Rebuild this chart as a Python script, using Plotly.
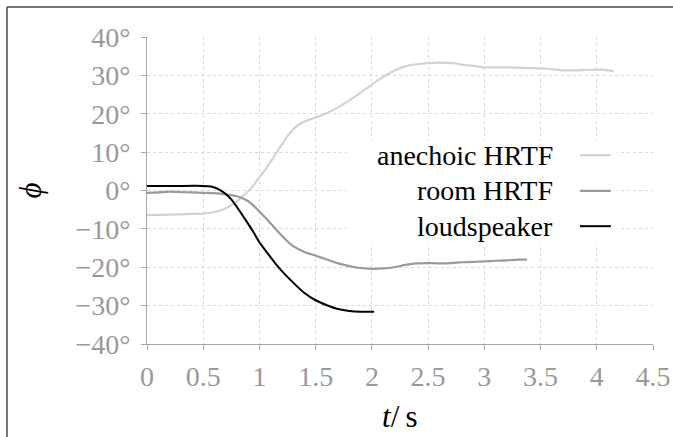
import plotly.graph_objects as go

# ---------------- data ----------------
t_anechoic = [0, 0.2, 0.4, 0.5, 0.6, 0.65, 0.7, 0.75, 0.8, 0.85, 0.9, 0.95, 1.0, 1.05, 1.1,
              1.15, 1.2, 1.25, 1.3, 1.35, 1.4, 1.5, 1.6, 1.7, 1.8, 1.9, 2.0, 2.1, 2.2, 2.3,
              2.4, 2.5, 2.6, 2.7, 2.75, 2.8, 2.9, 3.0, 3.1, 3.2, 3.3, 3.4, 3.5, 3.6, 3.7,
              3.8, 3.9, 4.0, 4.05, 4.15]
phi_anechoic = [-6.4, -6.3, -6.1, -6.0, -5.6, -5.2, -4.6, -3.8, -2.8, -1.5, -0.2, 1.5, 3.5, 5.3, 7.5,
                9.8, 12.0, 14.2, 15.9, 17.2, 18.0, 19.0, 20.2, 21.7, 23.5, 25.5, 27.6, 29.6, 31.2, 32.4,
                32.9, 33.2, 33.3, 33.2, 33.1, 32.8, 32.5, 32.1, 32.1, 32.1, 32.0, 31.9, 31.8, 31.6, 31.3,
                31.3, 31.4, 31.5, 31.5, 31.1]

t_room = [0, 0.1, 0.2, 0.3, 0.4, 0.5, 0.6, 0.7, 0.8, 0.85, 0.9, 0.95, 1.0, 1.05, 1.1, 1.15,
          1.2, 1.25, 1.3, 1.4, 1.5, 1.6, 1.7, 1.8, 1.9, 2.0, 2.1, 2.2, 2.3, 2.4, 2.5, 2.6,
          2.7, 2.8, 2.9, 3.0, 3.1, 3.2, 3.3, 3.38]
phi_room = [-0.6, -0.5, -0.3, -0.4, -0.5, -0.6, -0.7, -1.0, -1.5, -2.0, -2.8, -4.0, -5.5, -7.0, -8.6, -10.2,
            -11.8, -13.3, -14.5, -16.0, -17.0, -18.0, -19.0, -19.7, -20.2, -20.4, -20.3, -20.0, -19.4, -19.0, -18.9, -19.0,
            -18.9, -18.7, -18.6, -18.5, -18.3, -18.2, -18.0, -18.0]

t_speaker = [0, 0.25, 0.5, 0.55, 0.6, 0.65, 0.7, 0.75, 0.8, 0.85, 0.9, 0.95, 1.0, 1.05, 1.1,
             1.15, 1.2, 1.3, 1.4, 1.5, 1.6, 1.7, 1.8, 1.9, 2.02]
phi_speaker = [1.2, 1.2, 1.2, 1.1, 0.8, 0.1, -0.9, -2.3, -4.3, -6.5, -8.7, -11.0, -13.5, -15.5, -17.4,
               -19.3, -21.0, -24.0, -26.7, -28.6, -29.9, -30.9, -31.4, -31.6, -31.6]

series_names = ["anechoic HRTF", "room HRTF", "loudspeaker"]
series_colors = ["#d3d3d3", "#9a9a9a", "#000000"]

x_tick_vals = [0, 0.5, 1, 1.5, 2, 2.5, 3, 3.5, 4, 4.5]
x_tick_text = ["0", "0.5", "1", "1.5", "2", "2.5", "3", "3.5", "4", "4.5"]
y_tick_vals = [-40, -30, -20, -10, 0, 10, 20, 30, 40]
y_tick_text = ["−40°", "−30°", "−20°", "−10°", "0°", "10°", "20°", "30°", "40°"]

# legend row positions (data coords)
legend_rows_y = [9.2, -0.1, -9.3]

# ---------------- figure ----------------
FONT = "Liberation Serif"
W, H = 673, 437
ML, MR, MT, MB = 147, 20, 37, 93

fig = go.Figure()
series = [(t_anechoic, phi_anechoic), (t_room, phi_room), (t_speaker, phi_speaker)]
widths = [2.2, 2.2, 2.0]
for (tx, py), name, col, w in zip(series, series_names, series_colors, widths):
    fig.add_trace(go.Scatter(x=tx, y=py, mode="lines", name=name, showlegend=False,
                             line=dict(color=col, width=w, shape="spline", smoothing=0.6)))

shapes = []
# white legend box hiding the grid
shapes.append(dict(type="rect", xref="x", yref="y", x0=1.78, x1=4.18, y0=-13.75, y1=13.1,
                   fillcolor="white", line=dict(width=0), layer="above"))
annotations = []
for name, col, yy, w in zip(series_names, series_colors, legend_rows_y, widths):
    shapes.append(dict(type="line", xref="x", yref="y", x0=3.85, x1=4.125, y0=yy, y1=yy,
                       line=dict(color=col, width=w), layer="above"))
    annotations.append(dict(x=3.63, y=yy, xref="x", yref="y", text=name, showarrow=False,
                            xanchor="right", yanchor="middle",
                            font=dict(family=FONT, size=28, color="black")))

# outer frame lines (left and top)
pw = W - ML - MR
ph = H - MT - MB
fx = (7 - ML) / pw
fy = (H - MB - 7) / ph
shapes.append(dict(type="line", xref="paper", yref="paper", x0=fx, x1=fx, y0=fy, y1=(H - MB - H) / ph,
                   line=dict(color="#4a4a4a", width=1.5)))
shapes.append(dict(type="line", xref="paper", yref="paper", x0=fx, x1=(W - ML) / pw, y0=fy, y1=fy,
                   line=dict(color="#4a4a4a", width=1.5)))

# axis titles
annotations.append(dict(x=0.5, y=(H - MB - 416) / ph, xref="paper", yref="paper",
                        text="<i>t</i>/\u2009s", showarrow=False, xanchor="center", yanchor="middle",
                        font=dict(family=FONT, size=31, color="black")))
annotations.append(dict(x=(30 - ML) / pw, y=0.5, xref="paper", yref="paper",
                        text="<i>ϕ</i>", showarrow=False, textangle=-90,
                        xanchor="center", yanchor="middle",
                        font=dict(family=FONT, size=31, color="black")))

axis_common = dict(showline=True, linecolor="#a8a8a8", linewidth=1, ticks="outside", ticklen=5,
                   tickcolor="#a8a8a8", tickwidth=1, showgrid=True, gridcolor="#d9d9d9",
                   griddash="dot", gridwidth=1, zeroline=False, automargin=False,
                   tickfont=dict(family=FONT, size=28, color="#999999"))

fig.update_layout(
    width=W, height=H, autosize=False,
    margin=dict(l=ML, r=MR, t=MT, b=MB, pad=0, autoexpand=False),
    paper_bgcolor="white", plot_bgcolor="white",
    xaxis=dict(range=[0, 4.5], tickmode="array", tickvals=x_tick_vals, ticktext=x_tick_text,
               ticklabelstandoff=2, **axis_common),
    yaxis=dict(range=[-40, 40], tickmode="array", tickvals=y_tick_vals, ticktext=y_tick_text,
               ticklabelstandoff=5, **axis_common),
    shapes=shapes, annotations=annotations,
)

fig.write_html("out.html", config={"displayModeBar": False},
               post_script="document.body.style.margin='0';document.body.style.overflow='hidden';")
